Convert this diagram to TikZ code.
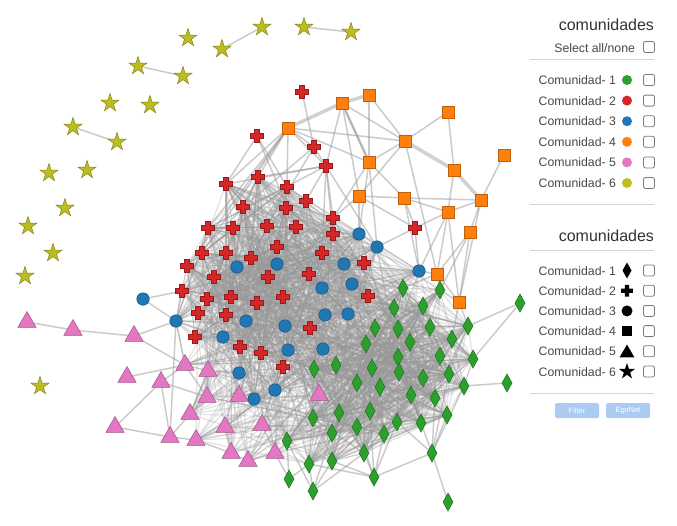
\documentclass[tikz,border=0pt]{standalone}
\usepackage{fontspec}
\setmainfont{Liberation Sans}
\usetikzlibrary{shapes.geometric}
\definecolor{cgreen}{HTML}{2CA02C}
\definecolor{cred}{HTML}{D62728}
\definecolor{cblue}{HTML}{1F77B4}
\definecolor{corange}{HTML}{FF7F0E}
\definecolor{cpink}{HTML}{E377C2}
\definecolor{colive}{HTML}{BCBD22}
\definecolor{btnblue}{HTML}{ABCBF3}
\definecolor{txtgray}{HTML}{484848}
\definecolor{txtdark}{HTML}{333333}
\definecolor{sepgray}{HTML}{D4D4D4}
\definecolor{boxgray}{HTML}{7A7A7A}
\definecolor{edgegray}{HTML}{999999}
\pgfdeclarelayer{bg}
\pgfsetlayers{bg,main}
\tikzset{
  every node/.style={inner sep=0pt, outer sep=0pt},
  greennode/.style={diamond, fill=cgreen, draw=cgreen!70!black, line width=0.5pt, minimum width=10pt, minimum height=18pt},
  rednode/.style={rectangle, minimum size=13pt},
  redplus/.style={fill=cred, draw=cred!70!black, line width=0.5pt},
  bluenode/.style={circle, fill=cblue, draw=cblue!70!black, line width=0.5pt, minimum size=12.5pt},
  orangenode/.style={rectangle, fill=corange, draw=corange!75!black, line width=0.5pt, minimum size=11.5pt},
  pinknode/.style={regular polygon, regular polygon sides=3, fill=cpink, draw=cpink!70!black, line width=0.5pt, minimum size=21pt},
  olivenode/.style={star, star points=5, star point ratio=2.6, fill=colive, draw=colive!70!black, line width=0.5pt, minimum size=19pt},
  plusmark/.pic={\path[pic actions] (-6.5,-2.4) -- (-2.4,-2.4) -- (-2.4,-6.5) -- (2.4,-6.5) -- (2.4,-2.4) -- (6.5,-2.4) -- (6.5,2.4) -- (2.4,2.4) -- (2.4,6.5) -- (-2.4,6.5) -- (-2.4,2.4) -- (-6.5,2.4) -- cycle;},
  masslnk/.style={draw=edgegray, line width=1.2pt, opacity=0.28},
  lnk/.style={draw=edgegray, line width=1.5pt, opacity=0.5},
  thicklnk/.style={draw=edgegray, line width=3.5pt, opacity=0.45},
  sepline/.style={draw=sepgray, line width=1pt},
  chk/.style={rectangle, draw=boxgray, rounded corners=2pt, line width=0.8pt, minimum size=11pt},
  itemtxt/.style={anchor=base east, text=txtgray, font=\fontsize{12.3}{15}\selectfont},
  titletxt/.style={anchor=base east, text=txtdark, font=\fontsize{16}{19}\selectfont},
  btn/.style={rectangle, fill=btnblue, rounded corners=1.5pt, text=white, minimum width=44pt, minimum height=15pt, font=\fontsize{7.5}{9}\selectfont},
}
\begin{document}
\begin{tikzpicture}[x=1pt,y=-1pt]
\begin{pgfonlayer}{bg}
\fill[white] (0,0) rectangle (677,525);
\end{pgfonlayer}
\useasboundingbox (0,0) rectangle (677,525);
% ---------- nodes ----------
\foreach \x/\y [count=\i] in {188/38,222/49,262/27,304/27,351/32,138/66,183/76,110/103,150/105,73/127,117/142,49/173,87/170,65/208,28/226,53/253,25/276,40/386}
  \node[olivenode] (s\i) at (\x,\y) {};
\foreach \x/\y [count=\i] in {342/103,369/95,288/128,405/141,448/112,369/162,454/170,504/155,359/196,404/198,481/200,448/212,470/232,437/274,459/302}
  \node[orangenode] (o\i) at (\x,\y) {};
\foreach \x/\y [count=\i] in {226/184,258/177,287/187,306/201,243/207,286/208,333/218,333/234,208/228,233/228,267/226,296/227,202/253,226/253,251/258,277/247,322/253,364/263,187/266,214/277,268/277,309/274,182/291,207/299,231/297,257/303,283/297,368/296,198/313,226/315,310/328,195/337,240/347,261/353,283/367,302/92,257/136,314/147,326/166,415/228}{
  \node[rednode] (c\i) at (\x,\y) {};
  \pic[redplus] at (\x,\y) {plusmark};
}
\foreach \x/\y [count=\i from 41] in {176/321,237/267,277/264,322/288,344/264,352/284,359/234,377/247,246/321,285/326,325/315,348/314,223/337,288/350,323/349,239/373,275/390,254/399,419/271,143/299}
  \node[bluenode] (c\i) at (\x,\y) {};
\foreach \x/\y [count=\i from 61] in {403/288,440/290,394/308,423/306,468/326,375/328,398/329,430/327,452/339,366/344,410/342,440/356,473/359,336/365,314/369,398/357,372/368,399/372,423/378,449/374,464/386,357/383,380/387,411/395,435/398,313/418,339/413,370/411,397/422,421/423,447/415,357/427,332/433,384/434,287/441,309/464,332/461,364/453,432/453,374/477,313/491,289/479,520/303,507/383,448/502}
  \node[greennode] (c\i) at (\x,\y) {};
\foreach \x/\y [count=\i] in {27/322,73/330,134/336,185/365,208/371,127/377,161/382,207/397,239/396,319/395,190/414,115/427,170/437,196/440,225/427,262/425,231/453,248/461,275/453}
  \node[pinknode] (p\i) at (\x,\y) {};
% ---------- connectors ----------
\begin{pgfonlayer}{bg}
\pgfmathsetseed{4711}
% red-red
\foreach \k in {1,...,420}{
  \pgfmathrandominteger{\na}{1}{35}\pgfmathrandominteger{\nb}{1}{35}
  \ifnum\na=\nb\else\draw[masslnk] (c\na.center) -- (c\nb.center);\fi}
% red-blue
\foreach \k in {1,...,280}{
  \pgfmathrandominteger{\na}{1}{35}\pgfmathrandominteger{\nb}{41}{59}
  \draw[masslnk] (c\na.center) -- (c\nb.center);}
% blue-blue
\foreach \k in {1,...,90}{
  \pgfmathrandominteger{\na}{41}{59}\pgfmathrandominteger{\nb}{41}{59}
  \ifnum\na=\nb\else\draw[masslnk] (c\na.center) -- (c\nb.center);\fi}
% green-green
\foreach \k in {1,...,650}{
  \pgfmathrandominteger{\na}{61}{98}\pgfmathrandominteger{\nb}{61}{98}
  \ifnum\na=\nb\else\draw[masslnk] (c\na.center) -- (c\nb.center);\fi}
% green-red/blue
\foreach \k in {1,...,380}{
  \pgfmathrandominteger{\na}{61}{98}\pgfmathrandominteger{\nb}{1}{54}
  \ifnum\nb>35 \pgfmathtruncatemacro\nb{\nb+5}\fi
  \draw[masslnk] (c\na.center) -- (c\nb.center);}
% pink inner to cluster
\foreach \p in {4,5,8,9,10,11,14,15,16,17,18,19}{
  \foreach \k in {1,...,15}{
    \pgfmathrandominteger{\nb}{1}{92}
    \ifnum\nb>54 \pgfmathtruncatemacro\nb{\nb+6}\else\ifnum\nb>35 \pgfmathtruncatemacro\nb{\nb+5}\fi\fi
    \draw[masslnk] (p\p.center) -- (c\nb.center);}}
% hand-placed connectors
\foreach \a/\b in {o1/o6,o2/o6,o2/o4,o1/o4,o3/o6,o3/o4,o4/o5,o5/o7,o4/o9,o4/o14,o4/o6,o8/o11,o9/o10,o10/o11,o10/o12,o12/o11,o12/o14,o12/o15,o11/o13,o11/o15,o13/o14,o13/o15,o14/o15,o6/o10,o7/o12,
  o6/c48,o1/c39,o1/o9,o9/c7,o9/c47,o9/c40,c40/o10,c40/o12,c40/c48,c40/c59,o14/c59,o14/c61,o14/c62,o15/c62,o15/c65,o15/c69,o13/c62,o10/c59,o12/c59,o6/c7,o6/c47,
  o3/c1,o3/c2,o3/c9,o3/c13,o3/c3,o3/c38,o3/c39,o3/c19,c36/c38,c38/c39,c37/c3,c37/c12,c37/c1,c39/c2,c39/c1,c39/c7,c39/c9,c39/c4,c39/c48,c39/c17,c39/c8,c38/c5,c38/c11,
  p1/p2,p2/p3,p3/c41,p3/p4,c60/c23,c60/c41,c41/c23,c41/p13,c41/p4,p6/p4,p7/p4,p7/p12,p7/p13,p12/p13,p13/p11,p13/p14,p11/p8,p11/p5,p14/p15,p14/p17,p7/p8,p4/p5,p4/p8,p5/p8,p8/p9,p15/p17,p17/p18,p18/p19,p16/p19,
  c103/c65,c103/c73,c104/c81,c105/c99,c99/c91,c99/c90,c99/c85,c99/c80,c99/c81,c99/c89,c99/c100,c100/c98,c100/c94,c100/c92,c100/c89,c100/c96,c100/c97,c100/c88,c101/c96,c101/c97,c101/c93,c101/c98,c101/c95,c102/c95,c102/p19,c102/c96,
  s2/s3,s4/s5,s6/s7,s10/s11}
  \draw[lnk] (\a.center) -- (\b.center);
\foreach \a/\b in {o3/o1,o1/o2,o4/o7,o7/o11}
  \draw[thicklnk] (\a.center) -- (\b.center);
\draw[lnk, line width=2.5pt] (o1.center) -- (o6.center);
\end{pgfonlayer}
% ---------- legend 1 ----------
\node[titletxt] (t1) at (654,30.5) {comunidades};
\node[itemtxt] (sel) at (635,52) {Select all/none};
\node[chk] (selbox) at (649,47) {};
\coordinate (sa1) at (530,59); \coordinate (sa2) at (654,59);
\draw[sepline] (sa1) -- (sa2);
\foreach \c [count=\i] in {cgreen,cred,cblue,corange,cpink,colive}{
  \pgfmathsetmacro\yy{80+20.6*(\i-1)}
  \node[itemtxt] (la\i) at (616,\yy+4.5) {Comunidad- \i};
  \node[circle, fill=\c, minimum size=10pt] (da\i) at (627,\yy) {};
  \node[chk] (ca\i) at (649,\yy) {};
}
\coordinate (sb1) at (530,204); \coordinate (sb2) at (654,204);
\draw[sepline] (sb1) -- (sb2);
% ---------- legend 2 ----------
\node[titletxt] (t2) at (654,241) {comunidades};
\coordinate (sc1) at (530,250); \coordinate (sc2) at (654,250);
\draw[sepline] (sc1) -- (sc2);
\foreach \i in {1,...,6}{
  \pgfmathsetmacro\yy{270.5+20.2*(\i-1)}
  \node[itemtxt] (lb\i) at (616,\yy+4.5) {Comunidad- \i};
  \node[chk] (cb\i) at (649,\yy) {};
}
\node[diamond, fill=black, minimum width=9pt, minimum height=16pt] (mb1) at (627,270.5) {};
\node[rednode] (mb2) at (627,290.7) {};
\pic[fill=black, scale=0.9] at (627,290.7) {plusmark};
\node[circle, fill=black, minimum size=11pt] (mb3) at (627,310.9) {};
\node[rectangle, fill=black, minimum size=10pt] (mb4) at (627,331.1) {};
\node[regular polygon, regular polygon sides=3, fill=black, minimum size=17pt] (mb5) at (627,353) {};
\node[star, star points=5, star point ratio=2.6, fill=black, minimum size=17pt] (mb6) at (627,371.5) {};
\coordinate (sd1) at (530,393); \coordinate (sd2) at (654,393);
\draw[sepline] (sd1) -- (sd2);
\node[btn] (bfilter) at (577,410.5) {Filter};
\node[btn] (bego) at (628,410.5) {EgoNet};
\end{tikzpicture}
\end{document}
